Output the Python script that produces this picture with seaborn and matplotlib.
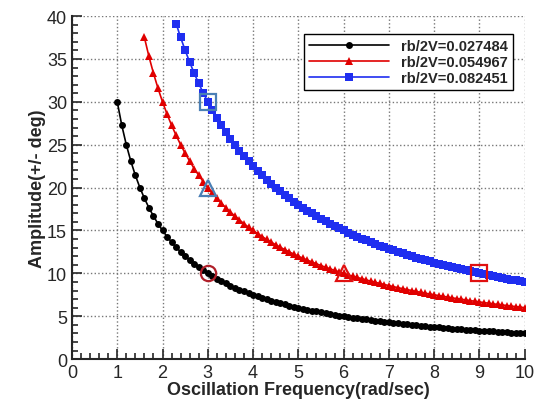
import pandas as pd
import matplotlib.pyplot as plt
import seaborn as sns
from matplotlib.ticker import MultipleLocator

# frequency grid (rad/sec)
freq = [1.0, 1.1, 1.2, 1.3, 1.4, 1.5, 1.6, 1.7, 1.8, 1.9,
        2.0, 2.1, 2.2, 2.3, 2.4, 2.5, 2.6, 2.7, 2.8, 2.9,
        3.0, 3.1, 3.2, 3.3, 3.4, 3.5, 3.6, 3.7, 3.8, 3.9,
        4.0, 4.1, 4.2, 4.3, 4.4, 4.5, 4.6, 4.7, 4.8, 4.9,
        5.0, 5.1, 5.2, 5.3, 5.4, 5.5, 5.6, 5.7, 5.8, 5.9,
        6.0, 6.1, 6.2, 6.3, 6.4, 6.5, 6.6, 6.7, 6.8, 6.9,
        7.0, 7.1, 7.2, 7.3, 7.4, 7.5, 7.6, 7.7, 7.8, 7.9,
        8.0, 8.1, 8.2, 8.3, 8.4, 8.5, 8.6, 8.7, 8.8, 8.9,
        9.0, 9.1, 9.2, 9.3, 9.4, 9.5, 9.6, 9.7, 9.8, 9.9, 10.0]

amp_1 = [30.0, 27.27, 25.0, 23.08, 21.43, 20.0, 18.75, 17.65, 16.67, 15.79,
         15.0, 14.29, 13.64, 13.04, 12.5, 12.0, 11.54, 11.11, 10.71, 10.34,
         10.0, 9.68, 9.38, 9.09, 8.82, 8.57, 8.33, 8.11, 7.89, 7.69,
         7.5, 7.32, 7.14, 6.98, 6.82, 6.67, 6.52, 6.38, 6.25, 6.12,
         6.0, 5.88, 5.77, 5.66, 5.56, 5.45, 5.36, 5.26, 5.17, 5.08,
         5.0, 4.92, 4.84, 4.76, 4.69, 4.62, 4.55, 4.48, 4.41, 4.35,
         4.29, 4.23, 4.17, 4.11, 4.05, 4.0, 3.95, 3.90, 3.85, 3.80,
         3.75, 3.70, 3.66, 3.61, 3.57, 3.53, 3.49, 3.45, 3.41, 3.37,
         3.33, 3.30, 3.26, 3.23, 3.19, 3.16, 3.13, 3.09, 3.06, 3.03, 3.0]

# starts at 1.6 rad/sec
amp_2 = [37.5, 35.29, 33.33, 31.58,
         30.0, 28.57, 27.27, 26.09, 25.0, 24.0, 23.08, 22.22, 21.43, 20.69,
         20.0, 19.35, 18.75, 18.18, 17.65, 17.14, 16.67, 16.22, 15.79, 15.38,
         15.0, 14.63, 14.29, 13.95, 13.64, 13.33, 13.04, 12.77, 12.5, 12.24,
         12.0, 11.76, 11.54, 11.32, 11.11, 10.91, 10.71, 10.53, 10.34, 10.17,
         10.0, 9.84, 9.68, 9.52, 9.38, 9.23, 9.09, 8.96, 8.82, 8.70,
         8.57, 8.45, 8.33, 8.22, 8.11, 8.0, 7.89, 7.79, 7.69, 7.59,
         7.5, 7.41, 7.32, 7.23, 7.14, 7.06, 6.98, 6.90, 6.82, 6.74,
         6.67, 6.59, 6.52, 6.45, 6.38, 6.32, 6.25, 6.19, 6.12, 6.06, 6.0]

# starts at 2.3 rad/sec
amp_3 = [39.13, 37.5, 36.0, 34.62, 33.33, 32.14, 31.03,
         30.0, 29.03, 28.13, 27.27, 26.47, 25.71, 25.0, 24.32, 23.68, 23.08,
         22.5, 21.95, 21.43, 20.93, 20.45, 20.0, 19.57, 19.15, 18.75, 18.37,
         18.0, 17.65, 17.31, 16.98, 16.67, 16.36, 16.07, 15.79, 15.52, 15.25,
         15.0, 14.75, 14.52, 14.29, 14.06, 13.85, 13.64, 13.43, 13.24, 13.04,
         12.86, 12.68, 12.5, 12.33, 12.16, 12.0, 11.84, 11.69, 11.54, 11.39,
         11.25, 11.11, 10.98, 10.84, 10.71, 10.59, 10.47, 10.34, 10.23, 10.11,
         10.0, 9.89, 9.78, 9.68, 9.57, 9.47, 9.38, 9.28, 9.18, 9.09, 9.0]

labels = ['rb/2V=0.027484', 'rb/2V=0.054967', 'rb/2V=0.082451']

# highlighted points
mark_x = [3, 3, 3, 6, 9]
mark_y = [10, 20, 30, 10, 10]
mark_shape = ['o', '^', 's', '^', 's']
mark_edge = ['#b0202a', '#4a7fb5', '#4a7fb5', '#e01010', '#e01010']

sns.set_style('ticks')
plt.rcParams['font.family'] = ['Liberation Sans', 'DejaVu Sans']

fig = plt.figure(figsize=(5.41, 4.06), dpi=100)
ax = fig.add_axes([0.133, 0.113, 0.837, 0.845])

df1 = pd.DataFrame({'x': freq, 'y': amp_1})
df2 = pd.DataFrame({'x': freq[6:], 'y': amp_2})
df3 = pd.DataFrame({'x': freq[13:], 'y': amp_3})

sns.lineplot(data=df1, x='x', y='y', ax=ax, color='black', marker='o',
             markersize=5, markeredgewidth=0, linewidth=1.2, label=labels[0])
sns.lineplot(data=df2, x='x', y='y', ax=ax, color='#e00000', marker='^',
             markersize=5.5, markeredgewidth=0, linewidth=1.2, label=labels[1])
sns.lineplot(data=df3, x='x', y='y', ax=ax, color='#1f2ef0', marker='s',
             markersize=6, markeredgewidth=0, linewidth=1.2, label=labels[2])

for mx, my, ms, mc in zip(mark_x, mark_y, mark_shape, mark_edge):
    ax.plot([mx], [my], marker=ms, markersize=11, markerfacecolor='none',
            markeredgecolor=mc, markeredgewidth=1.6, linestyle='none')

ax.set_xlim(0, 10)
ax.set_ylim(0, 40)
ax.xaxis.set_major_locator(MultipleLocator(1))
ax.xaxis.set_minor_locator(MultipleLocator(0.2))
ax.yaxis.set_major_locator(MultipleLocator(5))
ax.yaxis.set_minor_locator(MultipleLocator(1))
ax.tick_params(which='both', direction='in', width=1.2, labelsize=13)
ax.tick_params(which='major', length=7)
ax.tick_params(which='minor', length=4)
ax.grid(True, which='major', linestyle=':', color='#777777', linewidth=1)
ax.set_axisbelow(True)
for side in ['top', 'right']:
    ax.spines[side].set_visible(False)
for side in ['left', 'bottom']:
    ax.spines[side].set_linewidth(1.5)

ax.set_xlabel('Oscillation Frequency(rad/sec)', fontsize=13, fontweight='bold', labelpad=0)
ax.set_ylabel('Amplitude(+/- deg)', fontsize=13, fontweight='bold', labelpad=1)

leg = ax.legend(loc='upper right', bbox_to_anchor=(0.99, 0.97),
                prop={'weight': 'bold', 'size': 10.5}, fancybox=False,
                framealpha=1, edgecolor='black', handlelength=5.5,
                borderpad=0.35, labelspacing=0.15)
leg.get_frame().set_linewidth(1)

plt.savefig('out.png', dpi=100)
plt.close()
